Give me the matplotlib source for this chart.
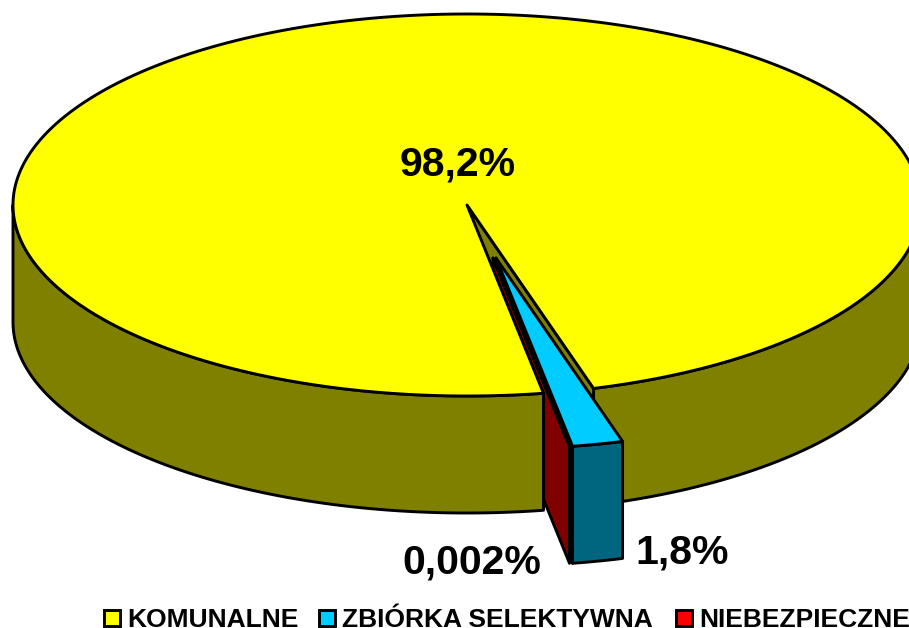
import numpy as np
import matplotlib
matplotlib.use("Agg")
import matplotlib.pyplot as plt
from matplotlib.patches import Polygon, Rectangle

# data
categories = ["KOMUNALNE", "ZBIÓRKA SELEKTYWNA", "NIEBEZPIECZNE"]
values = [98.2, 1.8, 0.002]
value_labels = ["98,2%", "1,8%", "0,002%"]
top_colors = ["#FFFF00", "#00CCFF", "#FF0000"]
side_colors = ["#808000", "#006680", "#800000"]

# geometry of the 3-D pie, in pixels
W, H = 909, 628
CX, CY, RX, RY, DEPTH = 467, 205, 454, 191, 117
FIRST_ANGLE = 170.3
EXPLODE = [(0, 0), (29, 53), (26, 53)]
LW = 2.1

plt.rcParams["font.family"] = ["Liberation Sans", "DejaVu Sans"]
fig = plt.figure(figsize=(W / 100, H / 100), dpi=100)
ax = fig.add_axes([0, 0, 1, 1])
ax.set_xlim(0, W)
ax.set_ylim(H, 0)
ax.axis("off")


def arc(t0, t1, off=(0, 0), drop=0.0, n=240):
    t = np.radians(np.linspace(t0, t1, n))
    return np.column_stack([CX + off[0] + RX * np.sin(t),
                            CY + off[1] + drop - RY * np.cos(t)])


def centre(off=(0, 0), drop=0.0):
    return np.array([[CX + off[0], CY + off[1] + drop]])


def poly(pts, color, z):
    ax.add_patch(Polygon(pts, closed=True, facecolor=color, edgecolor="black",
                         linewidth=LW, joinstyle="round", zorder=z))


def wall(t0, t1, off, color, z):
    poly(np.vstack([arc(t0, t1, off), arc(t1, t0, off, DEPTH)]), color, z)


def cut(t, off, color, z):
    rim = arc(t, t, off, n=1)
    poly(np.vstack([centre(off), rim, rim + [0, DEPTH], centre(off, DEPTH)]),
         color, z)


shares = np.array(values) / sum(values) * 360
starts = FIRST_ANGLE + np.concatenate([[0], np.cumsum(shares)[:-1]])
ends = starts + shares
yel_end = ends[0] - 360  # angle of yellow's far edge, right of the front

# back-to-front painting
wall(90, yel_end, EXPLODE[0], side_colors[0], 1)
cut(yel_end, EXPLODE[0], side_colors[0], 2)
cut(ends[1] - 360, EXPLODE[1], side_colors[1], 3)
cut(ends[2] - 360, EXPLODE[2], side_colors[2], 4)
wall(FIRST_ANGLE, 270, EXPLODE[0], side_colors[0], 5)
poly(np.vstack([centre(), arc(starts[0], ends[0], n=720)]), top_colors[0], 6)

# exploded slices
wall(starts[1] - 360, ends[1] - 360, EXPLODE[1], side_colors[1], 7)
poly(np.vstack([centre(EXPLODE[1]),
                arc(starts[1] - 360, ends[1] - 360, EXPLODE[1], n=20)]),
     top_colors[1], 8)
poly(np.vstack([centre(EXPLODE[2]),
                arc(starts[2] - 360, ends[2] - 360, EXPLODE[2], n=2)]),
     top_colors[2], 8)

# data labels (centre x, baseline y)
label_pos = [(458, 176), (682.5, 563), (472, 573)]
for txt, (x, y) in zip(value_labels, label_pos):
    ax.text(x, y, txt, fontsize=29.5, fontweight="bold", color="black",
            ha="center", va="baseline", zorder=10)

# legend
swatch_x = [103.5, 318.5, 675.5]
text_x = [127, 342, 699]
for name, col, sx, tx in zip(categories, top_colors, swatch_x, text_x):
    ax.add_patch(Rectangle((sx, 610), 16, 16, facecolor=col, edgecolor="black",
                           linewidth=LW, zorder=10))
    ax.text(tx, 627, name, fontsize=19, fontweight="bold", color="black",
            ha="left", va="baseline", zorder=10)

fig.savefig("out.png", dpi=100)
